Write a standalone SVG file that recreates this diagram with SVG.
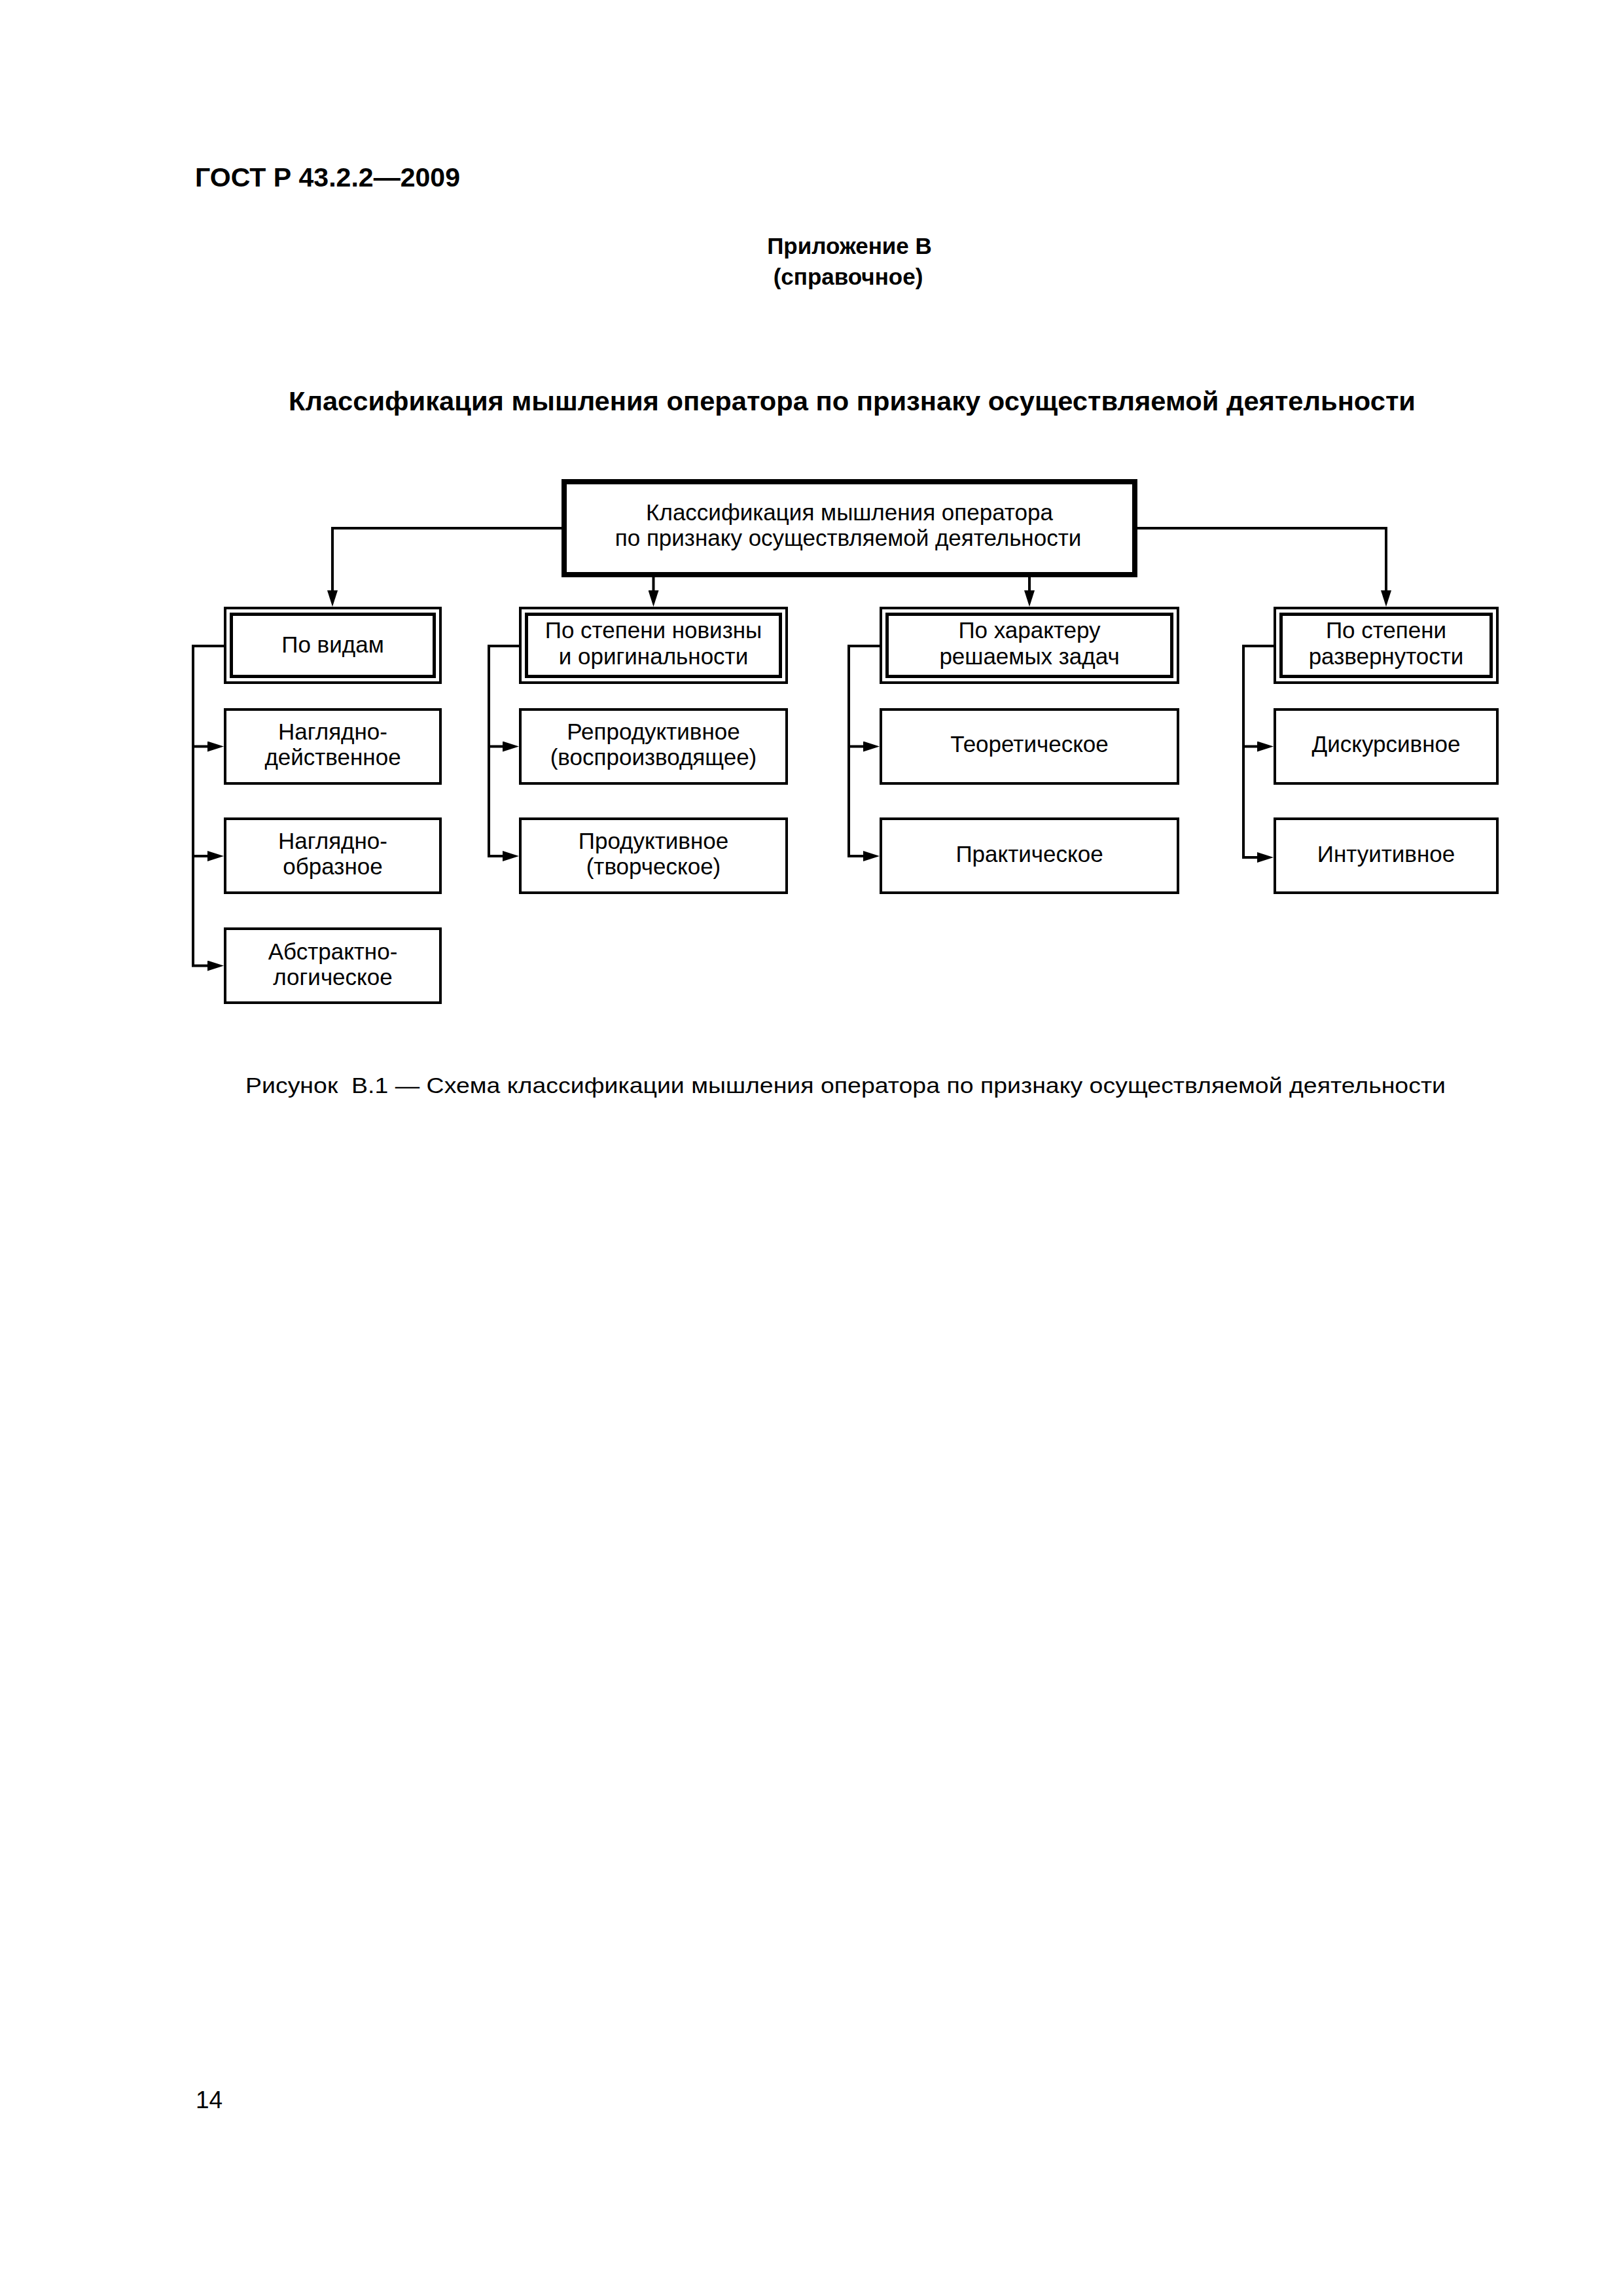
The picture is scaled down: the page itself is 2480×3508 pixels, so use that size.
<svg xmlns="http://www.w3.org/2000/svg" width="2480" height="3508" viewBox="0 0 2480 3508">
<style>
text{font-family:"Liberation Sans",Arial,sans-serif;fill:#000}
.t{font-size:35px;text-anchor:middle}
.b{font-weight:bold}
.box{fill:#fff;stroke:#000;stroke-width:4}
.inner{fill:none;stroke:#000;stroke-width:5}
.main{fill:#fff;stroke:#000;stroke-width:8}
.c{fill:none;stroke:#000;stroke-width:4;stroke-linejoin:miter;stroke-linecap:butt}
</style>
<defs>
<marker id="arr" viewBox="0 0 25 16" refX="0" refY="8" markerWidth="25" markerHeight="16" markerUnits="userSpaceOnUse" orient="auto">
<path d="M0,0 L25,8 L0,16 z" fill="#000"/>
</marker>
</defs>
<rect width="2480" height="3508" fill="#fff"/>

<g id="page-text">
<text x="298" y="285" font-size="41" class="b" textLength="405" lengthAdjust="spacingAndGlyphs">ГОСТ Р 43.2.2—2009</text>
<text x="1298" y="388" font-size="35" class="b" text-anchor="middle">Приложение В</text>
<text x="1296" y="435" font-size="35" class="b" text-anchor="middle">(справочное)</text>
<text x="441" y="627" font-size="40" class="b" textLength="1722" lengthAdjust="spacingAndGlyphs">Классификация мышления оператора по признаку осуществляемой деятельности</text>
<text x="375" y="1670" font-size="33" textLength="1834" lengthAdjust="spacingAndGlyphs" xml:space="preserve">Рисунок  В.1 — Схема классификации мышления оператора по признаку осуществляемой деятельности</text>
<text x="299" y="3221" font-size="37">14</text>
</g>

<g id="connectors">
<path class="c" d="M858,807 H508 V902" marker-end="url(#arr)"/>
<path class="c" d="M1738,807 H2118 V902" marker-end="url(#arr)"/>
<path class="c" d="M998.5,882 V902" marker-end="url(#arr)"/>
<path class="c" d="M1573,882 V902" marker-end="url(#arr)"/>

<path class="c" d="M342,987 H295 V1475.5 H317" marker-end="url(#arr)"/>
<path class="c" d="M295,1140.5 H317" marker-end="url(#arr)"/>
<path class="c" d="M295,1308 H317" marker-end="url(#arr)"/>

<path class="c" d="M793,987 H747 V1308 H768" marker-end="url(#arr)"/>
<path class="c" d="M747,1140.5 H768" marker-end="url(#arr)"/>

<path class="c" d="M1344,987 H1297 V1308 H1319" marker-end="url(#arr)"/>
<path class="c" d="M1297,1140.5 H1319" marker-end="url(#arr)"/>

<path class="c" d="M1946,987 H1900 V1310 H1921" marker-end="url(#arr)"/>
<path class="c" d="M1900,1140.5 H1921" marker-end="url(#arr)"/>
</g>

<g id="root">
<rect class="main" x="862" y="736" width="872" height="142"/>
<text class="t" x="1298" y="795">Классификация мышления оператора</text>
<text class="t" x="1296" y="834">по признаку осуществляемой деятельности</text>
</g>

<g id="h1">
<rect class="box" x="344" y="929" width="329" height="114"/>
<rect class="inner" x="353.5" y="938.5" width="310" height="95"/>
<text class="t" x="508.5" y="997">По видам</text>
</g>
<g id="h2">
<rect class="box" x="795" y="929" width="407" height="114"/>
<rect class="inner" x="804.5" y="938.5" width="388" height="95"/>
<text class="t" x="998.5" y="975">По степени новизны</text>
<text class="t" x="998.5" y="1015">и оригинальности</text>
</g>
<g id="h3">
<rect class="box" x="1346" y="929" width="454" height="114"/>
<rect class="inner" x="1355.5" y="938.5" width="435" height="95"/>
<text class="t" x="1573" y="975">По характеру</text>
<text class="t" x="1573" y="1015">решаемых задач</text>
</g>
<g id="h4">
<rect class="box" x="1948" y="929" width="340" height="114"/>
<rect class="inner" x="1957.5" y="938.5" width="321" height="95"/>
<text class="t" x="2118" y="975">По степени</text>
<text class="t" x="2118" y="1015">развернутости</text>
</g>

<g id="c1r1">
<rect class="box" x="344" y="1084" width="329" height="113"/>
<text class="t" x="508.5" y="1129.5">Наглядно-</text>
<text class="t" x="508.5" y="1168.5">действенное</text>
</g>
<g id="c1r2">
<rect class="box" x="344" y="1251" width="329" height="113"/>
<text class="t" x="508.5" y="1296.5">Наглядно-</text>
<text class="t" x="508.5" y="1335.5">образное</text>
</g>
<g id="c1r3">
<rect class="box" x="344" y="1419" width="329" height="113"/>
<text class="t" x="508.5" y="1466">Абстрактно-</text>
<text class="t" x="508.5" y="1505">логическое</text>
</g>

<g id="c2r1">
<rect class="box" x="795" y="1084" width="407" height="113"/>
<text class="t" x="998.5" y="1129.5">Репродуктивное</text>
<text class="t" x="998.5" y="1168.5">(воспроизводящее)</text>
</g>
<g id="c2r2">
<rect class="box" x="795" y="1251" width="407" height="113"/>
<text class="t" x="998.5" y="1296.5">Продуктивное</text>
<text class="t" x="998.5" y="1335.5">(творческое)</text>
</g>

<g id="c3r1">
<rect class="box" x="1346" y="1084" width="454" height="113"/>
<text class="t" x="1573" y="1149">Теоретическое</text>
</g>
<g id="c3r2">
<rect class="box" x="1346" y="1251" width="454" height="113"/>
<text class="t" x="1573" y="1317">Практическое</text>
</g>

<g id="c4r1">
<rect class="box" x="1948" y="1084" width="340" height="113"/>
<text class="t" x="2118" y="1149">Дискурсивное</text>
</g>
<g id="c4r2">
<rect class="box" x="1948" y="1251" width="340" height="113"/>
<text class="t" x="2118" y="1317">Интуитивное</text>
</g>
</svg>
